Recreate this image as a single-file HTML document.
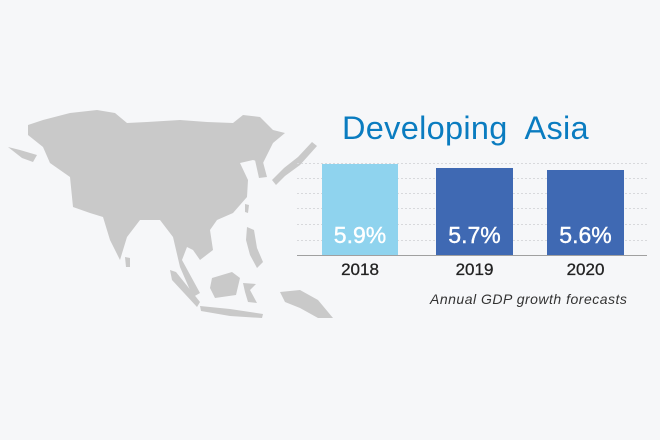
<!DOCTYPE html>
<html><head><style>
body{margin:0;width:660px;height:440px;background:#f6f7f9;overflow:hidden;font-family:"Liberation Sans",sans-serif;position:relative}
.t{position:absolute;white-space:nowrap}
</style></head><body>
<svg width="660" height="440" style="position:absolute;left:0;top:0">
<g fill="#c9c9c9">
<path d="M28,125 L43,120 L70,113 L97,110 L115,113 L127,123 L147,122 L180,120 L207,122 L233,123 L243,115 L260,117 L273,130 L285,133 L273,143 L263,163 L253,160 L240,163 L248,180 L247,197 L233,213 L217,220 L210,230 L213,250 L200,260 L193,250 L187,247 L182,260 L200,293 L193,297 L180,267 L173,237 L160,220 L140,220 L127,237 L120,260 L110,240 L103,217 L90,213 L73,207 L70,177 L50,163 L43,147 L28,135 Z"/>
<path d="M255,160 L263,162 L267,177 L259,178 Z"/>
<path d="M312,142 L317,146 L300,165 L285,176 L276,185 L272,180 L284,168 L298,157 Z"/>
<path d="M247,227 L254,230 L257,248 L263,262 L257,268 L250,255 L246,240 Z"/>
<path d="M212,278 L232,272 L240,278 L236,295 L215,298 L210,288 Z"/>
<path d="M170,270 L176,272 L200,302 L197,307 L172,280 Z"/>
<path d="M200,306 L230,309 L263,314 L262,318 L230,316 L201,311 Z"/>
<path d="M243,283 L256,284 L250,290 L257,303 L248,302 L245,292 Z"/>
<path d="M280,292 L300,290 L318,300 L333,318 L318,318 L300,308 L285,302 Z"/>
<path d="M125,257 L130,258 L130,267 L126,267 Z"/>
<path d="M245,204 L249,205 L248,213 L245,212 Z"/>
<path d="M8,147 L20,150 L37,155 L33,162 L22,158 Z"/>
</g>
<g stroke="#d8d9dc" stroke-dasharray="2,2" stroke-width="1">
<line x1="297" y1="163.5" x2="647" y2="163.5"/>
<line x1="297" y1="178.5" x2="647" y2="178.5"/>
<line x1="297" y1="193.5" x2="647" y2="193.5"/>
<line x1="297" y1="208.5" x2="647" y2="208.5"/>
<line x1="297" y1="224.5" x2="647" y2="224.5"/>
<line x1="297" y1="240.5" x2="647" y2="240.5"/>
</g>
<rect x="322" y="164" width="76" height="91" fill="#8fd3ee"/>
<rect x="436" y="168" width="77" height="87" fill="#3f69b3"/>
<rect x="547" y="170" width="77" height="85" fill="#3f69b3"/>
<line x1="297" y1="255.5" x2="647" y2="255.5" stroke="#a0a0a0" stroke-width="1"/>
</svg>
<div class="t" style="left:342px;top:110px;font-size:32.5px;color:#0a7cc0;letter-spacing:0.3px">Developing&nbsp; Asia</div>
<div class="t" style="left:322px;width:76px;text-align:center;top:222px;font-size:23px;color:#fff;-webkit-text-stroke:0.4px #fff">5.9%</div>
<div class="t" style="left:436px;width:77px;text-align:center;top:222px;font-size:23px;color:#fff;-webkit-text-stroke:0.4px #fff">5.7%</div>
<div class="t" style="left:547px;width:77px;text-align:center;top:222px;font-size:23px;color:#fff;-webkit-text-stroke:0.4px #fff">5.6%</div>
<div class="t" style="left:322px;width:76px;text-align:center;top:260px;font-size:17px;color:#222;-webkit-text-stroke:0.3px #222">2018</div>
<div class="t" style="left:436px;width:77px;text-align:center;top:260px;font-size:17px;color:#222;-webkit-text-stroke:0.3px #222">2019</div>
<div class="t" style="left:547px;width:77px;text-align:center;top:260px;font-size:17px;color:#222;-webkit-text-stroke:0.3px #222">2020</div>
<div class="t" style="left:430px;top:291px;font-size:14px;font-style:italic;color:#333;letter-spacing:0.5px">Annual GDP growth forecasts</div>
</body></html>
